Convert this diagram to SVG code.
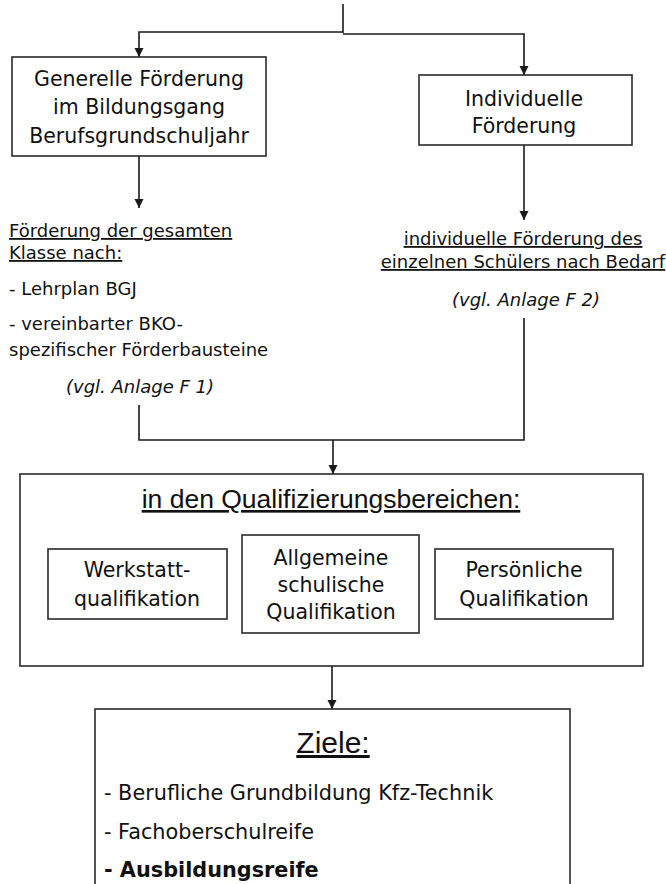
<svg xmlns="http://www.w3.org/2000/svg" width="666" height="884" viewBox="0 0 666 884">
<defs>
<marker id="arr" markerUnits="userSpaceOnUse" markerWidth="10" markerHeight="10" refX="9" refY="4.5" orient="auto">
<path d="M0,0 L9,4.5 L0,9 z" fill="#1a1a1a"/>
</marker>
</defs>
<style>
.box{fill:#fff;stroke:#2a2a2a;stroke-width:1.6}
.ln{fill:none;stroke:#1a1a1a;stroke-width:1.6}
text{font-family:"DejaVu Sans","Liberation Sans",sans-serif;fill:#111}
.t20{font-size:20.5px}
.t18{font-size:18px}
.it{font-style:italic}
.u{text-decoration:underline}
.c{text-anchor:middle}
</style>
<rect width="666" height="884" fill="#fff"/>
<g id="connectors">
<path class="ln" d="M343,4 V33"/>
<path class="ln" d="M343,32 H139 V57" marker-end="url(#arr)"/>
<path class="ln" d="M343,34 H524 V75" marker-end="url(#arr)"/>
<path class="ln" d="M139,156 V208" marker-end="url(#arr)"/>
<path class="ln" d="M524,145 V220" marker-end="url(#arr)"/>
<path class="ln" d="M139,405 V440 H524 V318"/>
<path class="ln" d="M333,440 V474" marker-end="url(#arr)"/>
<path class="ln" d="M332,666 V709" marker-end="url(#arr)"/>
</g>
<g id="generelle">
<rect class="box" x="12" y="57" width="254" height="99"/>
<text class="t20 c" x="139" y="86">Generelle Förderung</text>
<text class="t20 c" x="139" y="114">im Bildungsgang</text>
<text class="t20 c" x="139" y="143">Berufsgrundschuljahr</text>
</g>
<g id="individuelle">
<rect class="box" x="419" y="75" width="213" height="70"/>
<text class="t20 c" x="524" y="106">Individuelle</text>
<text class="t20 c" x="524" y="133">Förderung</text>
</g>
<g id="gesamte-klasse">
<text class="t18 u" x="9" y="237">Förderung der gesamten</text>
<text class="t18 u" x="9" y="259">Klasse nach:</text>
<text class="t18" x="9" y="295">- Lehrplan BGJ</text>
<text class="t18" x="9" y="330">- vereinbarter BKO-</text>
<text class="t18" x="9" y="356">spezifischer Förderbausteine</text>
<text class="t18 it c" x="140" y="393">(vgl. Anlage F 1)</text>
</g>
<g id="einzelner-schueler">
<text class="t18 u c" x="523" y="245">individuelle Förderung des</text>
<text class="t18 u c" x="523" y="268">einzelnen Schülers nach Bedarf</text>
<text class="t18 it c" x="526" y="306">(vgl. Anlage F 2)</text>
</g>
<g id="qualifizierungsbereiche">
<rect class="box" x="20" y="474" width="623" height="192"/>
<text class="u c" x="331" y="508" style="font-family:'Liberation Sans',sans-serif;font-size:26.5px">in den Qualifizierungsbereichen:</text>
</g>
<g id="werkstatt">
<rect class="box" x="48" y="549" width="179" height="70"/>
<text class="t20 c" x="137" y="577">Werkstatt-</text>
<text class="t20 c" x="137" y="606">qualifikation</text>
</g>
<g id="allgemeine">
<rect class="box" x="242" y="535" width="177" height="98"/>
<text class="t20 c" x="331" y="565">Allgemeine</text>
<text class="t20 c" x="331" y="592">schulische</text>
<text class="t20 c" x="331" y="619">Qualifikation</text>
</g>
<g id="persoenliche">
<rect class="box" x="435" y="549" width="178" height="70"/>
<text class="t20 c" x="524" y="577">Persönliche</text>
<text class="t20 c" x="524" y="606">Qualifikation</text>
</g>
<g id="ziele">
<rect class="box" x="95" y="709" width="475" height="200"/>
<text class="u c" x="333" y="753" style="font-family:'Liberation Sans',sans-serif;font-size:30px">Ziele:</text>
<text style="font-size:20.8px" x="104" y="800">- Berufliche Grundbildung Kfz-Technik</text>
<text style="font-size:20.8px" x="104" y="839">- Fachoberschulreife</text>
<text style="font-size:20.8px;font-weight:bold" x="104" y="877">- Ausbildungsreife</text>
</g>
</svg>
